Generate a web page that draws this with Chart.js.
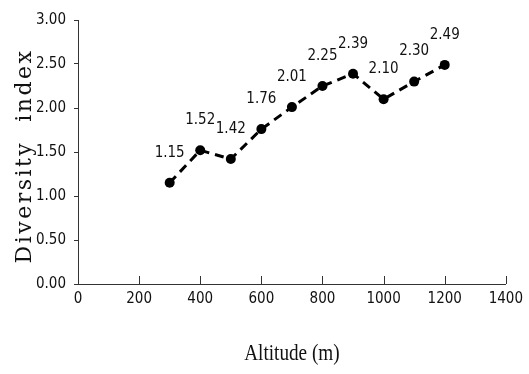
<!DOCTYPE html>
<html>
<head>
<meta charset="utf-8">
<script src="https://cdn.jsdelivr.net/npm/chart.js@4.4.1/dist/chart.umd.min.js"></script>
<style>
  html, body { margin: 0; padding: 0; background: #fff; }
  #wrap { width: 529px; height: 374px; position: relative; }
</style>
</head>
<body>
<div id="wrap"><canvas id="chart"></canvas></div>
<script>
// Data
const altitudes = [300, 400, 500, 600, 700, 800, 900, 1000, 1100, 1200];
const diversity = [1.15, 1.52, 1.42, 1.76, 2.01, 2.25, 2.39, 2.10, 2.30, 2.49];
const xTitle = 'Altitude (m)';
const yTitle = 'Diversity  index';

const narrowFamily = '"DejaVu Sans Condensed", "Liberation Sans Narrow", "Liberation Sans", sans-serif';
const tickFont = { family: narrowFamily, size: 15 };

// value labels above each point
const valueLabels = {
    id: 'valueLabels',
    afterDatasetsDraw(chart) {
        const ctx = chart.ctx;
        const meta = chart.getDatasetMeta(0);
        ctx.save();
        ctx.font = '15px ' + narrowFamily;
        ctx.fillStyle = '#111';
        ctx.textAlign = 'center';
        ctx.textBaseline = 'middle';
        meta.data.forEach((pt, i) => {
            ctx.fillText(diversity[i].toFixed(2), pt.x, pt.y - 30);
        });
        ctx.restore();
    }
};

// inner tick marks on x axis + axis titles
const axisExtras = {
    id: 'axisExtras',
    afterDraw(chart) {
        const ctx = chart.ctx;
        const x = chart.scales.x;
        const area = chart.chartArea;
        ctx.save();
        ctx.strokeStyle = '#333';
        ctx.lineWidth = 1;
        x.ticks.forEach(t => {
            if (t.value === 0) return;
            const px = Math.round(x.getPixelForValue(t.value)) + 0.5;
            ctx.beginPath();
            ctx.moveTo(px, area.bottom);
            ctx.lineTo(px, area.bottom - 8);
            ctx.stroke();
        });

        ctx.fillStyle = '#111';
        ctx.textAlign = 'center';
        ctx.textBaseline = 'middle';
        // x title, slightly condensed serif
        ctx.save();
        ctx.translate((area.left + area.right) / 2, 354);
        ctx.scale(0.8, 1);
        ctx.font = '24px "Liberation Serif", serif';
        ctx.fillText(xTitle, 0, 0);
        ctx.restore();
        // y title, wide serif
        ctx.save();
        ctx.translate(25, (area.top + area.bottom) / 2 + 4);
        ctx.rotate(-Math.PI / 2);
        ctx.font = '22px "DejaVu Serif", serif';
        ctx.letterSpacing = '2.5px';
        ctx.fillText(yTitle, 0, 0);
        ctx.restore();
        ctx.restore();
    }
};

const ctx = document.getElementById('chart').getContext('2d');
const chart = new Chart(ctx, {
    type: 'line',
    data: {
        datasets: [{
            data: altitudes.map((a, i) => ({ x: a, y: diversity[i] })),
            borderColor: '#000',
            backgroundColor: '#000',
            borderWidth: 3,
            borderDash: [9, 6],
            pointRadius: 5,
            pointBorderWidth: 0,
            pointBackgroundColor: '#000',
            fill: false,
            tension: 0
        }]
    },
    options: {
        responsive: true,
        maintainAspectRatio: false,
        animation: false,
        layout: { padding: { left: 0, right: 21, top: 20, bottom: 0 } },
        plugins: {
            legend: { display: false },
            tooltip: { enabled: false }
        },
        scales: {
            x: {
                type: 'linear',
                min: 0,
                max: 1400,
                ticks: {
                    stepSize: 200, font: tickFont, color: '#111', padding: 6, maxRotation: 0,
                    callback: v => String(v)
                },
                grid: { display: true, drawOnChartArea: false, drawTicks: false },
                border: { color: '#333', width: 1 },
                afterFit: s => { s.height = 90; }
            },
            y: {
                min: 0,
                max: 3,
                ticks: {
                    stepSize: 0.5,
                    font: tickFont,
                    color: '#111',
                    padding: 8,
                    callback: v => Number(v).toFixed(2)
                },
                grid: { display: true, drawOnChartArea: false, drawTicks: true, tickLength: 4, color: '#333' },
                border: { color: '#333', width: 1 },
                afterFit: s => { s.width = 78; }
            }
        }
    },
    plugins: [valueLabels, axisExtras]
});
</script>
</body>
</html>
